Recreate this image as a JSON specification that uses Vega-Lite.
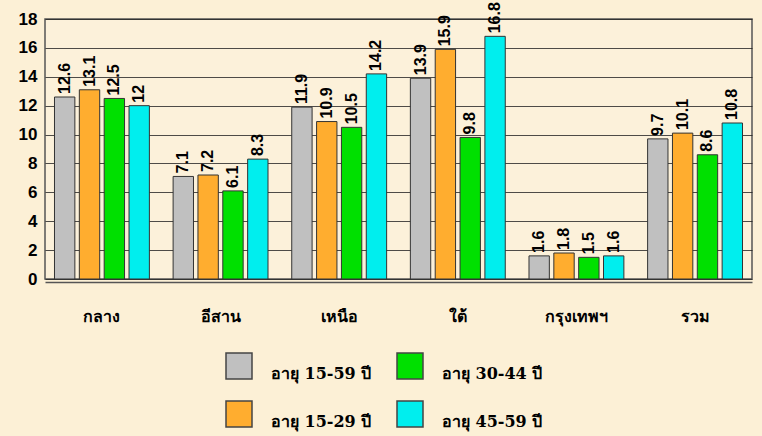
{
  "$schema": "https://vega.github.io/schema/vega-lite/v6.json",
  "autosize": "none",
  "width": 707,
  "height": 260,
  "padding": {"left": 45, "top": 19, "right": 10, "bottom": 157},
  "background": "#fcf0d6",
  "config": {
    "view": {"stroke": "#555555", "strokeWidth": 1.5, "fill": "#fcf1da"},
    "font": "Liberation Sans"
  },
  "data": {
    "values": [
      {"region": "กลาง", "age": "อายุ 15-59 ปี", "value": 12.6},
      {"region": "กลาง", "age": "อายุ 15-29 ปี", "value": 13.1},
      {"region": "กลาง", "age": "อายุ 30-44 ปี", "value": 12.5},
      {"region": "กลาง", "age": "อายุ 45-59 ปี", "value": 12},
      {"region": "อีสาน", "age": "อายุ 15-59 ปี", "value": 7.1},
      {"region": "อีสาน", "age": "อายุ 15-29 ปี", "value": 7.2},
      {"region": "อีสาน", "age": "อายุ 30-44 ปี", "value": 6.1},
      {"region": "อีสาน", "age": "อายุ 45-59 ปี", "value": 8.3},
      {"region": "เหนือ", "age": "อายุ 15-59 ปี", "value": 11.9},
      {"region": "เหนือ", "age": "อายุ 15-29 ปี", "value": 10.9},
      {"region": "เหนือ", "age": "อายุ 30-44 ปี", "value": 10.5},
      {"region": "เหนือ", "age": "อายุ 45-59 ปี", "value": 14.2},
      {"region": "ใต้", "age": "อายุ 15-59 ปี", "value": 13.9},
      {"region": "ใต้", "age": "อายุ 15-29 ปี", "value": 15.9},
      {"region": "ใต้", "age": "อายุ 30-44 ปี", "value": 9.8},
      {"region": "ใต้", "age": "อายุ 45-59 ปี", "value": 16.8},
      {"region": "กรุงเทพฯ", "age": "อายุ 15-59 ปี", "value": 1.6},
      {"region": "กรุงเทพฯ", "age": "อายุ 15-29 ปี", "value": 1.8},
      {"region": "กรุงเทพฯ", "age": "อายุ 30-44 ปี", "value": 1.5},
      {"region": "กรุงเทพฯ", "age": "อายุ 45-59 ปี", "value": 1.6},
      {"region": "รวม", "age": "อายุ 15-59 ปี", "value": 9.7},
      {"region": "รวม", "age": "อายุ 15-29 ปี", "value": 10.1},
      {"region": "รวม", "age": "อายุ 30-44 ปี", "value": 8.6},
      {"region": "รวม", "age": "อายุ 45-59 ปี", "value": 10.8}
    ]
  },
  "encoding": {
    "x": {
      "field": "region",
      "type": "nominal",
      "sort": null,
      "title": null,
      "scale": {"paddingInner": 0.2, "paddingOuter": 0.08},
      "axis": {
        "labelAngle": 0,
        "labelFont": "DejaVu Serif",
        "labelFontWeight": "bold",
        "labelFontSize": 16,
        "labelColor": "#000000",
        "labelPadding": 26,
        "ticks": false,
        "domain": true,
        "domainColor": "#555555",
        "domainWidth": 1.5,
        "offset": 3
      }
    },
    "xOffset": {
      "field": "age",
      "type": "nominal",
      "sort": ["อายุ 15-59 ปี", "อายุ 15-29 ปี", "อายุ 30-44 ปี", "อายุ 45-59 ปี"],
      "scale": {"paddingInner": 0.18}
    },
    "y": {
      "field": "value",
      "type": "quantitative",
      "title": null,
      "scale": {"domain": [0, 18]},
      "axis": {
        "values": [0, 2, 4, 6, 8, 10, 12, 14, 16, 18],
        "labelFontSize": 17,
        "labelFontWeight": "bold",
        "labelColor": "#000000",
        "labelPadding": 8,
        "ticks": false,
        "domain": false,
        "gridColor": "#222222",
        "gridWidth": 1,
        "gridOpacity": 0.8
      }
    }
  },
  "layer": [
    {
      "mark": {"type": "bar", "stroke": "#333333", "strokeWidth": 1},
      "encoding": {
        "color": {
          "field": "age",
          "type": "nominal",
          "scale": {
            "domain": ["อายุ 15-59 ปี", "อายุ 15-29 ปี", "อายุ 30-44 ปี", "อายุ 45-59 ปี"],
            "range": ["#c0c0c0", "#ffad2f", "#00e000", "#00eeee"]
          },
          "legend": {
            "title": null,
            "orient": "none",
            "legendX": 180,
            "legendY": 333,
            "columns": 2,
            "symbolType": "square",
            "symbolSize": 676,
            "symbolStrokeColor": "#444444",
            "symbolStrokeWidth": 1.5,
            "labelFont": "DejaVu Serif",
            "labelFontWeight": "bold",
            "labelFontSize": 16,
            "labelColor": "#000000",
            "labelOffset": 18,
            "labelBaseline": "top",
            "rowPadding": 16,
            "columnPadding": 22
          }
        }
      }
    },
    {
      "mark": {
        "type": "text",
        "angle": 270,
        "align": "left",
        "baseline": "middle",
        "dx": 3,
        "fontSize": 16,
        "fontWeight": "bold",
        "color": "#000000"
      },
      "encoding": {
        "text": {"field": "value", "type": "quantitative"}
      }
    }
  ]
}
